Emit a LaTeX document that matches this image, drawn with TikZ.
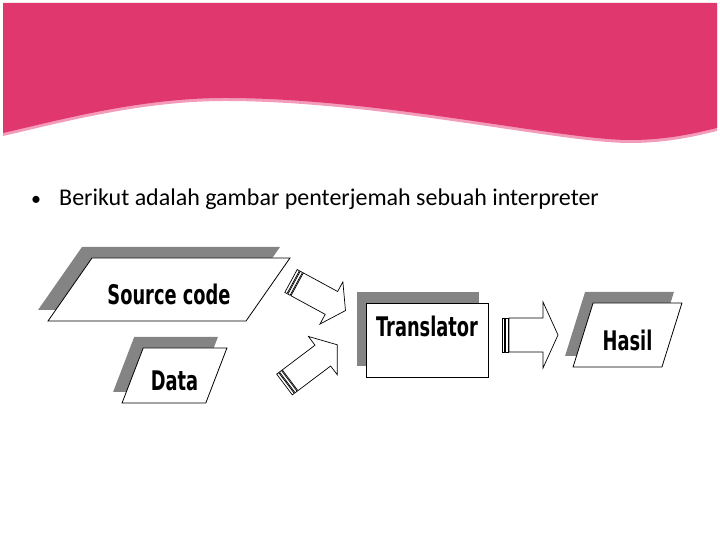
\documentclass[tikz,border=0pt]{standalone}
\usepackage{fontspec}
\setmainfont{Carlito}
\newfontfamily\diafont[FakeStretch=0.66,BoldFeatures={FakeStretch=0.66}]{DejaVu Sans}
\usetikzlibrary{shapes.geometric, shadows, positioning, calc}
\definecolor{bandpink}{RGB}{225, 55, 111}
\definecolor{bandedge}{RGB}{243, 155, 186}
\definecolor{shadowgray}{RGB}{132, 132, 132}

\tikzset{
    iobox/.style={trapezium, trapezium stretches=true, draw=black, fill=white, line width=0.8pt,
          inner xsep=0pt, text height=31pt, text depth=0pt, font=\diafont\bfseries\fontsize{27}{30}\selectfont},
    procbox/.style={rectangle, draw=black, fill=white, line width=0.8pt, inner ysep=0pt,
          text height=34pt, text depth=40pt, font=\diafont\bfseries\fontsize{27}{30}\selectfont},
    blockline/.style={draw=black, fill=white, line width=0.7pt, line join=miter}
}

% striped block arrow: tail, angle, length, shaft half, head half, head length
\newcommand{\stripearrow}[6]{%
    \begin{scope}[shift={(#1)}, rotate=#2]
        \draw[blockline] (0,-#4) rectangle (2.5,#4);
        \draw[blockline] (3.5,-#4) rectangle (6,#4);
        \draw[blockline] (7,-#4) -- ({#3-#6},-#4) -- ({#3-#6},-#5) -- (#3,0)
            -- ({#3-#6},#5) -- ({#3-#6},#4) -- (7,#4) -- cycle;
    \end{scope}}

\begin{document}
\begin{tikzpicture}[x=1pt, y=1pt]
    \useasboundingbox (0,0) rectangle (720,540);

    % title band
    \fill[bandedge, yshift=-3pt] (3,537) -- (3,407) .. controls (60,420) and (140,442) .. (225,442)
        .. controls (380,442) and (560,400) .. (630,400) .. controls (670,400) and (700,408) .. (717,412) -- (717,537) -- cycle;
    \fill[bandpink] (3,537) -- (3,407) .. controls (60,420) and (140,442) .. (225,442)
        .. controls (380,442) and (560,400) .. (630,400) .. controls (670,400) and (700,408) .. (717,412) -- (717,537) -- cycle;

    % bullet line
    \node[anchor=base west, inner sep=0pt, font=\fontsize{20}{24}\selectfont] (dot) at (31,334) {•};
    \node[anchor=base west, inner sep=0pt, font=\fontsize{24}{28}\selectfont] (intro) at (59,334)
        {Berikut adalah gambar penterjemah sebuah interpreter};

    % boxes
    \node[iobox, trapezium left angle=47, trapezium right angle=133, minimum width=242pt, minimum height=63pt,
          general shadow={fill=shadowgray, shadow xshift=-10pt, shadow yshift=11pt}] (src) at (169,250.5) {Source code};
    \node[iobox, trapezium left angle=67, trapezium right angle=113, minimum width=105pt, minimum height=55pt,
          general shadow={fill=shadowgray, shadow xshift=-9pt, shadow yshift=11pt}] (data) at (174.5,164.5) {Data};
    \node[procbox, minimum width=122pt, minimum height=74pt,
          general shadow={fill=shadowgray, shadow xshift=-9pt, shadow yshift=11pt}] (trans) at (427,200) {Translator};
    \node[iobox, trapezium left angle=69, trapezium right angle=111, minimum width=109pt, minimum height=64pt,
          general shadow={fill=shadowgray, shadow xshift=-8pt, shadow yshift=11pt}] (hasil) at (627.5,205) {Hasil};

    % arrows
    \coordinate (srcout) at (291,259);
    \coordinate (dataout) at (284.5,155.5);
    \coordinate (transout) at (502,205);
    \stripearrow{srcout}{-28.5}{62}{13}{24}{16}
    \stripearrow{dataout}{37}{66}{13}{24}{18}
    \stripearrow{transout}{0}{56}{17}{33}{15}
\end{tikzpicture}
\end{document}
